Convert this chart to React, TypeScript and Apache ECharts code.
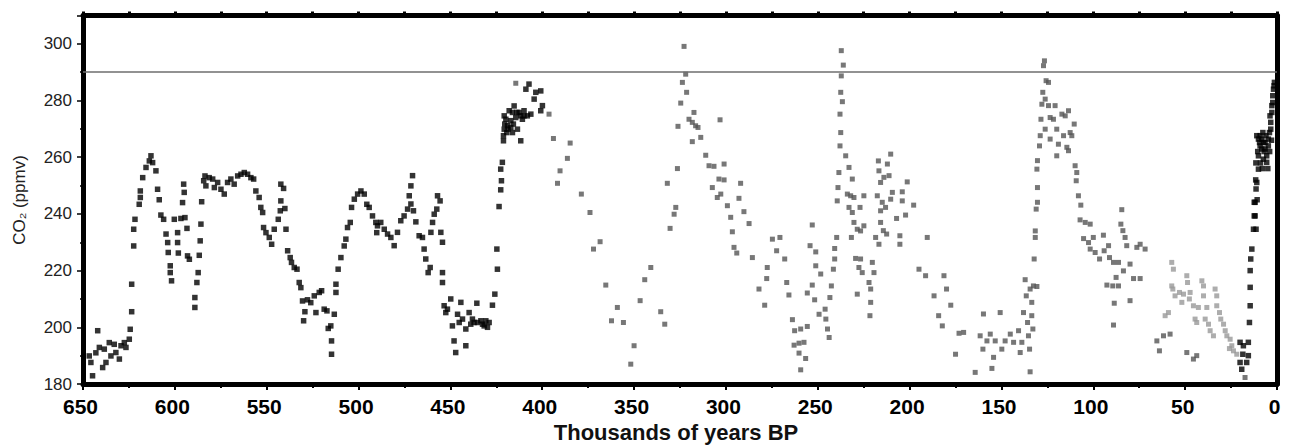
import React, { useEffect, useRef } from "react";
import * as echarts from "echarts";

// Axis ranges (thousands of years BP, ppmv)
const X_MIN = 0;
const X_MAX = 650;
const Y_MIN = 180;
const Y_MAX = 310;
const PREINDUSTRIAL = 290;

// [age (kyr BP), CO2 (ppmv)]
const blackOld: number[][] = [
  [646.6,189.9],[644.8,182.9],[645.7,187.6],[642,198.8],[643,191],[641.1,192.9],[639.3,185.8],[638.4,192.3],[637.5,187.6],[635.7,194.6],[634.8,189.9],[633,194],[632.1,191.1],[630.2,188.8],[629.3,193.5],[627.5,194.6],[626.6,192.9],[624.8,195.8],[624.3,199.3],[623.5,205.5],[623.5,215.2],[622.4,228.7],[622.4,234.6],[621.7,238.1],[619.4,243.4],[618.8,245.8],[618.8,248.1],[617.5,252.8],[615.7,256.4],[613.9,258.7],[613,260.5],[612.1,258.1],[610.3,255.2],[609.4,248.7],[608.5,245],[607.6,239.6],[606.1,238.1],[604.8,232.9],[603.9,229.9],[603.6,226.4],[602.5,221.7],[602.5,219.3],[601.8,216.4],[600.3,238.1],[598.5,233.4],[598.5,229.9],[598.1,226.2],[596.7,238.4],[595.8,244],[595.2,250.5],[594.9,247.6],[594.5,238.7],[593.4,234.9],[593.1,225.2],[592.1,224],[589.1,210.5],[589.1,207],[588,215.8],[587.3,219.3],[586.7,225.4],[586.2,230.5],[585.8,236.4],[585.4,244.3],[584.3,251.7],[583.6,253.4],[583.1,249.9],[581.3,252.8],[579.4,252.3],[578.5,249.3],[576.7,251.1],[574.9,248.7],[573.1,247],[571.3,251.1],[569.5,252.3],[567.7,250.5],[565.8,253.4],[564,254],[562.2,254.6],[560.4,254],[558.6,252.8],[557.1,252.3],[555.9,248.1],[554.1,245.8],[553.2,242.3],[552.2,240.5],[551.7,235.2],[550.4,233.4],[548.6,231.7],[547.3,229.3],[545.9,234.6],[543.7,238.1],[542.6,241.1],[542.3,244.6],[542.3,250.5],[540.8,249],[540.1,241.9],[539.5,234.6],[538.6,227],[537.2,224.6],[536.5,222.9],[535,221.1],[533.5,220.5],[532.3,215.8],[531.4,214],[530.5,209.3],[529.2,205.5],[529.9,202.3],[527.8,209.7],[526,208.7],[524.1,211.1],[523.2,205.2],[521.4,212.3],[520.1,212.9],[518.7,206.4],[517.2,205.8],[516.5,199.6],[515.1,200.5],[514.7,195.2],[514.7,190.5],[513.2,204.6],[512.3,212.3],[512.3,215.2],[511.1,220.5],[509.6,224.6],[507.8,228.7],[506.9,231.1],[506,235.2],[504.5,237],[503.8,242.3],[502.3,245.2],[500.5,247],[498.7,248.1],[496.9,247],[495.5,243.4],[494.2,242.3],[492.4,239.3],[490.6,237],[490.1,233.4],
  [489.7,235.8],[487.9,237],[486,234.6],[484.2,232.9],[482.4,231.7],[480.6,228.8],[478.8,233.5],[477,237.6],[475.2,239.3],[473.3,241.7],[472.4,246.4],[471.5,249.9],[470.6,253.5],[471.5,243.5],[470.1,241.1],[468.8,237.2],[467,232.3],[465.2,231.7],[464.3,227.6],[463.4,224.1],[462.1,219.3],[461,221.1],[460.6,233.5],[459.7,237],[458.8,239.9],[457.4,241.7],[457,246.4],[455.6,244.6],[455.2,233.5],[454.3,230],[454.3,219.3],[454.3,215.8],[453.4,207.6],[452.5,205.2],[451.6,206.4],[449.8,210],[448.9,200.5],[448,195.2],[447.1,191.1],[446.1,204.6],[445.2,201.7],[444.3,208.8],[443.4,202.9],[441.6,199.4],[441.6,193.5],[439.8,205.2],[438.9,201.1],[438,202.9],[437.1,201.7],[435.6,208.5],[435.3,201.7],[433.4,202.3],[432.5,201.1],[431.6,200.5],[430.7,202.3],[429.8,200],[428.9,201.7],[427.1,207.8],[425.8,211.7],[424.4,220.5],[424.7,227.6],[423.5,242.6],[422.6,248.5],[422.2,251.7],[422.6,255.8],[421.7,258.2],[421.1,265.8],[421.1,267.6],[420.7,269.9],[420.7,274.6],[420.4,271.7],[419.8,273.4],[419.3,268.7],[418.9,271.1],[418.6,269.9],[418,276.4],[417.1,272.9],[417.1,270.5],[416.2,268.7],[416.2,275.8],[415.7,271.7],[415.3,278.1],[414.4,274],[413.8,275.8],[413.5,269.9],[412.6,275.8],[411.7,265.8],[411.7,274.6],[410.8,273.4],[409.9,276.4],[409.9,274.6],[408.9,284],[408.1,274.6],[407.2,285.8],[406.2,275.2],[404.4,280.5],[403.5,282.9],[400.8,283.4],[400.8,276.4],[399.9,278.2]
];

const grayMid: number[][] = [
  [414.4,286.1],[396.3,275.2],[393.9,266.6],[384.8,265],[386.3,259.6],[390.3,255.2],[391.7,250.8],[378.7,247],[374,240.5],[372.1,227.6],[368.5,230.2],[365.4,214.9],[359.1,207],[362.3,202.3],[355.8,201.7],[350,193.5],[351.8,187],[346.7,209.4],[344.2,216.8],[340.9,221.1],[335.5,205.5],[333.3,201.1],[331.9,250.8],[330.4,234.9],
  [328.2,239.9],[327.3,242.3],[326.4,256],[326.1,270.9],[324.6,279.1],[323.7,286.4],[322.8,299.1],[321.9,289.3],[321.4,282.9],[320.1,273.4],[318.3,272.3],[317.4,275.8],[316.5,271.1],[315.2,270.5],[318.3,265.5],[313.7,267],[311,260.7],[309.2,257],[306.5,256.8],[303.2,273.2],[307.4,249.3],[303.8,252.3],[301,252],[301,257.6],[304.7,245.8],[302.8,247],[299.2,242.9],[297.4,238.8],[296.5,233.7],[292.9,245.5],[292,250.8],[290.2,240.8],[287.4,236.6],[295.6,228.2],[294.1,226.2],[285.6,224.6],[282,213.5],[278.9,207.8],[277.5,221.1],[277.8,217.2],[274.7,231.1],[272.4,227],[270.6,231.7],[268,224.1],[266.9,215.8],[265.7,211.4],[263.8,202.7],[262.6,198.8],[259.3,199.4],[255.7,200.3],[262.9,193.7],[260.2,194.4],[257.5,194.7],[260.2,190.9],[256.6,189],[259.3,185],[255.7,212.1],[253,214.9],[251.7,209.7],[254.2,228.8],[253,236.1],[251.1,226.6],[251.1,221.7],[248.4,218.8],[249.3,204.6],[246,206.4],[245.6,202.9],[244.7,199.4],[243.8,196.4],[243.4,210.5],[242.6,214.6],[241.5,220.5],[240.8,224.1],[240.8,227.8],[239.7,231.7],[239.4,244.6],[239,249.3],[238.5,254.6],[237.9,264],[237.5,268.7],[237.9,275.2],[237.5,282.9],[236.6,279.6],[237.2,288.7],[236.1,292.5],[237.2,297.6],[234.8,260.5],[233,256.4],[231.2,252.3],[233.9,247],[232.1,246.4],[230.3,245.8],[233,242.3],[231.2,240.5],[230.3,237],[228.5,234.6],[226.7,234],[224.9,235.8],[231.7,231.7],[224.9,246.4],[227,242.3],[229.4,224.3],[226.7,224.1],[227.6,221.1],[225.8,219.3],[222.1,215.8],[221.2,213.5],[220.3,222.9],[219.4,219.3],[221.2,208.8],[221.6,204.1],[228.5,211.7],[217,258.7],[216.7,255.2],[215.8,251.1],[214,252.9],[211.2,253.5],[210.3,261.1],[212.1,257.6],[217.6,246.4],[215.8,241.1],[214.9,244.1],[213.1,242.3],[210.3,245.2],[209.4,247.6],[215.8,237],[214.3,234.1],[212.5,232.9],[218.5,231.7],[216.7,229.3],[207.1,238.4],[205.3,232.3],[205.3,229.3],[204,244.6],[204,247.8],[202.2,239.6],[201.3,251.3],[197.8,243.1],[190.4,231.7],[194.9,220.5],[191.3,218.2],[186.7,211.1],[184.2,204.1],[182.2,200.5],[181.3,218.2],[179.9,213.5],[177.6,207.8],[173.1,197.9],[175,190.5],
  [170.6,198.2],[164.3,184.1],[161.6,197],[159.8,204.7],[160.1,192.3],[157.9,195.2],[156.1,197.6],[155.2,185.5],[154.3,189.4],[153.4,195.2],[150.7,205.2],[149.8,192.3],[148,195.2],[145.2,197.6],[143.4,194.7],[140.7,198.8],[139.8,191.1],[138.9,194.7],[138,205.2],[137.1,216.8],[136.5,211.1],[135.8,201.7],[135.3,197],[134.7,192.3],[134.4,184.3],[134.4,213.5],[133.5,208.8],[133.5,204.1],[132.9,199.4],[132.6,214.6],[130.7,214.4],[132.2,224.1],[131.6,231.7],[131.6,234],[131.1,241.7],[130.4,244.1],[130.4,249.3],[130.7,255.8],[130.4,258.8],[129.3,264],[128.9,267.6],[128.5,273.4],[128,278.7],[127.5,282.9],[127.1,292.3],[126.6,294],[125.7,287],[124.4,286.4],[126.2,280.5],[124.4,278.2],[123.5,274],[126.2,269.9],[123.5,266.4],[121.7,273.4],[120.8,278.2],[119.9,269.9],[119,264.6],[119.9,260.5],[117.1,275.2],[115.3,274.6],[113.5,276.4],[116.2,267.6],[114.4,263.5],[112.6,268.7],[110.4,271.7],[111.7,267.6],[113.5,262.3],[109.9,257],[109,254.6],[109.3,251.7],[108.1,246.4],[106.8,243.1],[107.2,237.9],[104.4,237],[101.7,236.4],[105.3,231.3],[102.6,229.9],[100,231.7],[101.7,227.6],[99,226.4],[96.6,224.1],[94.5,232.5],[94.1,227],[91.2,224.6],[91.7,228.8],[89,222.9],[86.3,222.9],[84.5,241.5],[85,236.4],[83.9,234.1],[82.7,231.7],[80,222.3],[81.8,228.8],[76.3,228.2],[74.5,229.3],[71.8,227.6],[87.6,217.6],[83.6,219.9],[78.1,217.2],[74.5,217.2],[92.6,214.9],[89.4,214.6],[86.3,214.6],[88.6,208.5],[80,209.4],[89,200.8],[65.4,195.2],[64,191.7],[61.8,197],[58.2,197.6],[49.1,191.1],[45.5,188.8],[43.7,190],[17.4,182.3]
];

const grayLight: number[][] = [
  [60.9,204.1],[59.1,205.2],[57.3,222.9],[56.4,220.5],[57.3,214.6],[56.7,213.5],[55.5,211.1],[53.1,212.3],[51.8,208.8],[49.1,218.2],[48.7,215.8],[50.9,211.7],[47.3,212.3],[47.7,210],[45.5,207.6],[44.6,202.9],[43.7,201.7],[42.8,207],[40.9,216.4],[40,214.6],[40,211.1],[38.2,207],[39.1,202.9],[37.3,201.1],[36.4,198.8],[34.6,197],[33.7,213.5],[32.8,211.1],[32.8,207.6],[31.3,205.2],[30.6,202.9],[29.1,201.1],[28.2,198.8],[27.3,197],[25.5,195.8],[24.6,193.5],[23.7,191.7],[25.9,192.5],[21.9,190.5]
];

const blackRecent: number[][] = [
  [20.1,194.7],[18.3,193.5],[18.6,190.5],[20.1,187.6],[19.2,185.2],[16.5,187.6],[15.6,190],[15.6,194.7],[15,201.7],[14.6,207.6],[14.6,214.1],[14.6,220],[14.3,224.1],[13.7,227.6],[12.8,234.6],[12.4,239.3],[12.4,244.1],[11.9,239.3],[11.4,234.6],[11.9,244.1],[11.4,248.8],[11,251.1],[10.1,255.8],[10.1,260.5],[9.5,265.2],[9.2,267.6],[8.3,262.9],[7.4,259.3],[6.5,265.2],[5.6,258.2],[4.7,264],[4.1,268.7],[3.4,272.3],[2.8,275.8],[2.3,279.3],[1.9,284],[1.4,286.4],[11,267.6],[10.1,266.4],[9.2,264],[8.3,266.4],[7.4,265.2],[6.5,262.9],[5.6,260.5],[4.7,266.4],[6,267.6],[7.7,268.7],[3.8,274.6],[2.8,278.2],[2.3,281.7],[1.6,285.2],[3.4,269.9],[10.5,262],[9,258],[8,256],[7,262],[5,256],[4,262],[3,266],[11.5,258],[10.8,245],[11.6,252]
];

export default function App() {
  const ref = useRef<HTMLDivElement>(null);

  useEffect(() => {
    if (!ref.current) return;
    const chart = echarts.init(ref.current, null, { renderer: "svg" });
    const frame = { show: true, onZero: false, lineStyle: { color: "#000", width: 5 } };
    const scatter = (name: string, data: number[][], color: string, size: number) => ({
      name,
      type: "scatter",
      data,
      symbol: "rect",
      symbolSize: size,
      itemStyle: { color },
      xAxisIndex: 0,
      yAxisIndex: 0,
      silent: true,
    });
    chart.setOption({
      animation: false,
      backgroundColor: "#fff",
      grid: { left: 83, right: 15, top: 15.5, bottom: 64 },
      xAxis: [
        {
          type: "value",
          position: "bottom",
          min: X_MIN,
          max: X_MAX,
          interval: 50,
          inverse: true,
          axisLine: frame,
          axisTick: { show: true, length: 6, lineStyle: { color: "#000", width: 2 } },
          minorTick: { show: true, splitNumber: 2, length: 4, lineStyle: { color: "#000", width: 2 } },
          axisLabel: {
            fontFamily: "Liberation Sans",
            fontWeight: "bold",
            fontSize: 21,
            color: "#000",
            margin: 12,
            padding: [0, 5, 0, 0],
          },
          splitLine: { show: false },
          minorSplitLine: { show: false },
        },
        {
          type: "value",
          position: "top",
          min: X_MIN,
          max: X_MAX,
          interval: 25,
          inverse: true,
          axisLine: frame,
          axisTick: { show: true, length: 4, lineStyle: { color: "#000", width: 3 } },
          axisLabel: { show: false },
          splitLine: { show: false },
        },
      ],
      yAxis: [
        {
          type: "value",
          position: "left",
          min: Y_MIN,
          max: Y_MAX,
          interval: 20,
          axisLine: frame,
          axisTick: { show: true, length: 6, lineStyle: { color: "#000", width: 1.5 } },
          minorTick: { show: true, splitNumber: 2, length: 3, lineStyle: { color: "#000", width: 1.5 } },
          axisLabel: {
            showMaxLabel: false,
            fontFamily: "Liberation Sans",
            fontSize: 17,
            color: "#222",
            margin: 11,
          },
          splitLine: { show: false },
          minorSplitLine: { show: false },
        },
        {
          type: "value",
          position: "right",
          min: Y_MIN,
          max: Y_MAX,
          interval: 20,
          axisLine: frame,
          axisTick: { show: false },
          axisLabel: { show: false },
          splitLine: { show: false },
        },
      ],
      graphic: [
        {
          type: "text",
          x: 19,
          y: 200,
          rotation: Math.PI / 2,
          style: {
            text: "CO₂ (ppmv)",
            fontFamily: "Liberation Sans",
            fontSize: 17,
            fill: "#222",
            align: "center",
            verticalAlign: "middle",
          },
        },
        {
          type: "text",
          x: 676,
          y: 432,
          style: {
            text: "Thousands of years BP",
            fontFamily: "Liberation Sans",
            fontWeight: "bold",
            fontSize: 22,
            fill: "#111",
            align: "center",
            verticalAlign: "middle",
          },
        },
      ],
      series: [
        {
          ...scatter("Dome C (older)", blackOld, "#000", 5.5),
          markLine: {
            silent: true,
            symbol: ["none", "none"],
            label: { show: false },
            lineStyle: { color: "#6e6e6e", width: 1.5, type: "solid" },
            data: [{ yAxis: PREINDUSTRIAL }],
          },
        },
        scatter("Vostok", grayMid, "#555", 5),
        scatter("Taylor Dome", grayLight, "#999", 5),
        scatter("Dome C (recent)", blackRecent, "#000", 5.5),
      ],
    });
    return () => chart.dispose();
  }, []);

  return (
    <div
      ref={ref}
      style={{ position: "fixed", left: 0, top: 0, width: 1292, height: 448, background: "#fff" }}
    />
  );
}
